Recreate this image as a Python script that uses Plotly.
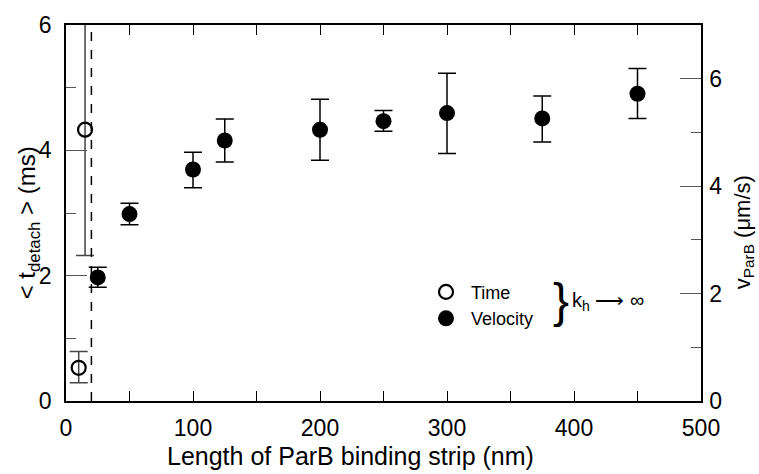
import plotly.graph_objects as go

# ---- data ----
time_x = [10, 15]
time_y = [0.53, 4.33]
time_err_plus = [0.26, 2.01]
time_err_minus = [0.24, 2.01]

vel_x = [25, 50, 100, 125, 200, 250, 300, 375, 450]
vel_y = [2.30, 3.48, 4.31, 4.85, 5.05, 5.21, 5.36, 5.26, 5.72]
vel_err_plus = [0.19, 0.20, 0.32, 0.40, 0.57, 0.20, 0.74, 0.42, 0.47]
vel_err_minus = [0.18, 0.20, 0.34, 0.40, 0.57, 0.19, 0.75, 0.44, 0.46]

cutoff_x = 20

FONT = "Liberation Sans, Arial, sans-serif"

# plot area in pixels (for annotation placement)
W, H = 759, 474
L, R, T, B = 66, 58, 20, 73
PW, PH = W - L - R, H - T - B


def px(x):
    return (x - L) / PW


def py(y):
    return (H - B - y) / PH


fig = go.Figure()

fig.add_trace(go.Scatter(
    x=time_x, y=time_y, mode="markers", name="Time",
    marker=dict(symbol="circle-open", size=14, color="black", line=dict(width=2.2, color="black")),
    error_y=dict(type="data", symmetric=False, array=time_err_plus, arrayminus=time_err_minus,
                 color="#444", thickness=1.5, width=9),
    yaxis="y",
))

fig.add_trace(go.Scatter(
    x=vel_x, y=vel_y, mode="markers", name="Velocity",
    marker=dict(symbol="circle", size=16, color="black"),
    error_y=dict(type="data", symmetric=False, array=vel_err_plus, arrayminus=vel_err_minus,
                 color="black", thickness=1.5, width=9),
    yaxis="y2",
))

fig.add_shape(type="line", xref="x", yref="paper", x0=cutoff_x, x1=cutoff_x, y0=0, y1=1,
              line=dict(color="black", width=1.5, dash="dash"))

tickfont = dict(family=FONT, size=23, color="black")

fig.update_layout(
    width=W, height=H,
    margin=dict(l=L, r=R, t=T, b=B),
    paper_bgcolor="white", plot_bgcolor="white",
    font=dict(family=FONT, color="black"),
    showlegend=True,
    legend=dict(
        x=px(421), y=py(272), xanchor="left", yanchor="top",
        font=dict(family=FONT, size=18, color="black"),
        bgcolor="rgba(0,0,0,0)", borderwidth=0,
        itemwidth=40, tracegroupgap=0,
    ),
    xaxis=dict(
        range=[0, 500], dtick=100, tick0=0,
        ticks="inside", ticklen=10, tickwidth=1.2, tickcolor="black",
        minor=dict(dtick=50, ticks="inside", ticklen=10, tickwidth=1.2, tickcolor="black"),
        showline=True, linecolor="black", linewidth=1.5, mirror="ticks",
        showgrid=False, zeroline=False,
        tickfont=tickfont, ticklabelstandoff=6,
    ),
    yaxis=dict(
        range=[0, 6], dtick=2, tick0=0,
        ticks="inside", ticklen=21, tickwidth=1.2, tickcolor="#555",
        minor=dict(dtick=1, ticks="inside", ticklen=10, tickwidth=1.2, tickcolor="#555"),
        showline=True, linecolor="black", linewidth=1.5,
        showgrid=False, zeroline=False,
        tickfont=tickfont, ticklabelstandoff=8,
    ),
    yaxis2=dict(
        range=[0, 7], dtick=2, tick0=0, overlaying="y", side="right",
        ticks="inside", ticklen=21, tickwidth=1.2, tickcolor="#555",
        minor=dict(dtick=1, ticks="inside", ticklen=10, tickwidth=1.2, tickcolor="#555"),
        showline=True, linecolor="black", linewidth=1.5,
        showgrid=False, zeroline=False,
        tickfont=tickfont, ticklabelstandoff=2,
    ),
)

annots = [
    dict(text="Length of ParB binding strip (nm)", x=px(350), y=py(457),
         font=dict(family=FONT, size=25, color="black")),
    dict(text="&lt; t<sub>detach</sub> &gt; (ms)", x=px(28), y=py(221), textangle=-90,
         font=dict(family=FONT, size=24, color="black")),
    dict(text="v<sub>ParB</sub> (μm/s)", x=px(744), y=py(230), textangle=-90,
         font=dict(family=FONT, size=22, color="black")),
    dict(text="}", x=px(561), y=py(299),
         font=dict(family=FONT, size=48, color="black")),
    dict(text="k<sub>h</sub> ⟶ ∞", x=px(570), y=py(300), xanchor="left",
         font=dict(family=FONT, size=20, color="black")),
]
for a in annots:
    a.setdefault("xanchor", "center")
    fig.add_annotation(xref="paper", yref="paper", showarrow=False, yanchor="middle", **a)

fig.write_html("out.html")
